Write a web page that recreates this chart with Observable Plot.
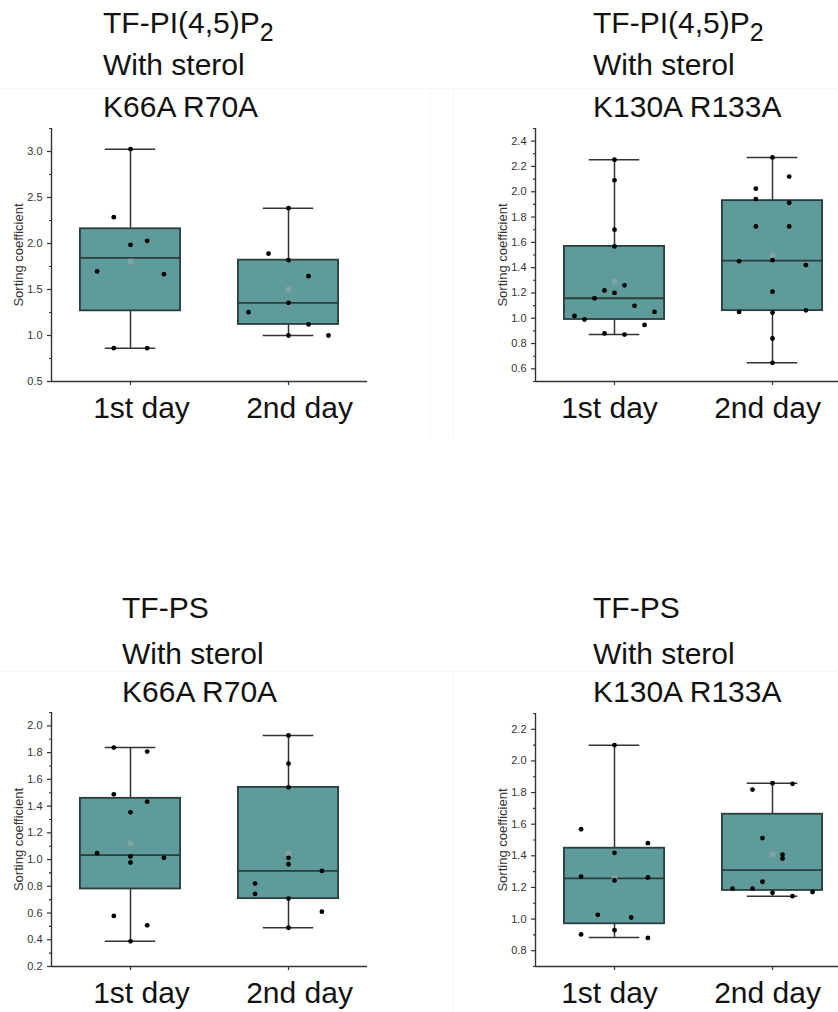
<!DOCTYPE html>
<html><head><meta charset="utf-8">
<script src="https://cdn.jsdelivr.net/npm/d3@7"></script>
<script src="https://cdn.jsdelivr.net/npm/@observablehq/plot@0.6"></script>
<style>
html,body{margin:0;padding:0;background:#fff;overflow:hidden;}
#page{position:relative;width:838px;height:1012px;overflow:hidden;font-family:"Liberation Sans",Arial,sans-serif;}
.t{position:absolute;font-size:30px;line-height:30px;color:#111;white-space:nowrap;}
.t sub{font-size:25px;vertical-align:-8px;line-height:0;}
.panel{position:absolute;}
.sep{position:absolute;background:#f6f6f6;}
</style></head><body><div id="page"></div>
<script>
// ---------- data ----------
const days = ["1st day", "2nd day"];
const yLabel = "Sorting coefficient";

const titles1 = ["TF-PI(4,5)P<sub>2</sub>", "With sterol", "K66A R70A"];
const titles2 = ["TF-PI(4,5)P<sub>2</sub>", "With sterol", "K130A R133A"];
const titles3 = ["TF-PS", "With sterol", "K66A R70A"];
const titles4 = ["TF-PS", "With sterol", "K130A R133A"];

// y tick values per panel
const yTicks1 = [0.5, 1.0, 1.5, 2.0, 2.5, 3.0];
const yTicks2 = [0.6, 0.8, 1.0, 1.2, 1.4, 1.6, 1.8, 2.0, 2.2, 2.4];
const yTicks3 = [0.2, 0.4, 0.6, 0.8, 1.0, 1.2, 1.4, 1.6, 1.8, 2.0];
const yTicks4 = [0.8, 1.0, 1.2, 1.4, 1.6, 1.8, 2.0, 2.2];

// box statistics [1st day, 2nd day]
const p1Min = [0.862, 1.00], p1Q1 = [1.268, 1.12], p1Med = [1.844, 1.355], p1Q3 = [2.16, 1.819], p1Max = [3.025, 2.384], p1Mean = [1.804, 1.50];
const p2Min = [0.871, 0.648], p2Q1 = [0.99, 1.06], p2Med = [1.158, 1.455], p2Q3 = [1.568, 1.93], p2Max = [2.253, 2.271], p2Mean = [1.288, 1.496];
const p3Min = [0.388, 0.49], p3Q1 = [0.78, 0.7075], p3Med = [1.033, 0.915], p3Q3 = [1.458, 1.54], p3Max = [1.838, 1.928], p3Mean = [1.12, 1.045];
const p4Min = [0.884, 1.145], p4Q1 = [0.97, 1.181], p4Med = [1.257, 1.31], p4Q3 = [1.448, 1.663], p4Max = [2.10, 1.859], p4Mean = [1.258, 1.41];

// individual points and their jitter lane
const p1Day1 = [3.025, 2.286, 1.986, 2.029, 1.696, 1.667, 0.862, 0.862];
const p1Day1Lane = [0, -1, 0, 1, -2, 2, -1, 1];
const p1Day2 = [2.384, 1.891, 1.819, 1.645, 1.355, 1.254, 1.12, 1.00, 1.00];
const p1Day2Lane = [0, -1, 0, 1, 0, -2, 1, 0, 2];

const p2Day1 = [2.253, 2.09, 1.70, 1.568, 1.26, 1.22, 1.20, 1.158, 1.098, 1.05, 1.018, 0.99, 0.947, 0.88, 0.871];
const p2Day1Lane = [0, 0, 0, 0, 1, -1, 0, -2, 2, 4, -4, -3, 3, -1, 1];
const p2Day2 = [2.271, 2.12, 2.024, 1.942, 1.913, 1.726, 1.726, 1.45, 1.459, 1.42, 1.21, 1.05, 1.045, 1.063, 0.84, 0.648];
const p2Day2Lane = [0, 1, -1, -1, 1, -1, 1, -2, 0, 2, 0, -2, 0, 2, 0, 0];

const p3Day1 = [1.838, 1.808, 1.488, 1.433, 1.353, 1.048, 1.023, 1.013, 0.978, 0.578, 0.508, 0.388];
const p3Day1Lane = [-1, 1, -1, 1, 0, -2, 0, 2, 0, -1, 1, 0];
const p3Day2 = [1.928, 1.718, 1.54, 1.013, 0.965, 0.82, 0.743, 0.915, 0.708, 0.61, 0.49];
const p3Day2Lane = [0, 0, 0, 0, 0, -2, -2, 2, 0, 2, 0];

const p4Day1 = [2.10, 1.568, 1.48, 1.419, 1.269, 1.263, 1.244, 1.027, 1.01, 0.93, 0.903, 0.881];
const p4Day1Lane = [0, -2, 2, 0, -2, 2, 0, -1, 1, 0, -2, 2];
const p4Day2 = [1.859, 1.855, 1.819, 1.512, 1.408, 1.383, 1.236, 1.192, 1.192, 1.167, 1.171, 1.145];
const p4Day2Lane = [0, 2, -2, -1, 1, 1, -1, -4, -2, 0, 4, 2];

// ---------- layout / style ----------
const FONT = '"Liberation Sans", Arial, sans-serif';
const PX_PER_UNIT = 158;
const BOX_HALF = 0.317, CAP_HALF = 0.16;
const FILL = "#5f9b9b", EDGE = "#2a3d3d", AXIS = "#333";

function makeBoxes(mn, q1, md, q3, mx, mean) {
  return [0, 1].map(i => ({cat: i + 1, min: mn[i], q1: q1[i], median: md[i], q3: q3[i], max: mx[i], mean: mean[i]}));
}
function makePoints(vals1, lanes1, vals2, lanes2, steps) {
  return [
    ...vals1.map((v, i) => ({cat: 1, value: v, lane: lanes1[i], step: steps[0]})),
    ...vals2.map((v, i) => ({cat: 2, value: v, lane: lanes2[i], step: steps[1]}))
  ];
}

function panel({domain, ticks, boxes, points, width, marginLeft, marginTop, plotH, marginBottom, labelDx}) {
  const step = ticks[1] - ticks[0];
  const minor = d3.range(Math.round(domain[0] / (step / 2)), Math.floor(domain[1] / (step / 2) + 1e-6) + 1)
    .map(k => +(k * step / 2).toFixed(3))
    .filter(v => v >= domain[0] - 1e-9 && v <= domain[1] + 1e-9 && !ticks.some(t => Math.abs(t - v) < 1e-6));
  const plotW = 2 * PX_PER_UNIT;
  return Plot.plot({
    width, height: marginTop + plotH + marginBottom,
    marginLeft, marginTop, marginBottom, marginRight: width - marginLeft - plotW,
    x: {domain: [0.5, 2.5], axis: null},
    y: {domain, axis: null},
    style: {fontFamily: FONT, background: "transparent", overflow: "visible", color: AXIS},
    marks: [
      Plot.ruleX(boxes, {x: "cat", y1: "q3", y2: "max", stroke: AXIS, strokeWidth: 1.5}),
      Plot.ruleX(boxes, {x: "cat", y1: "min", y2: "q1", stroke: AXIS, strokeWidth: 1.5}),
      Plot.ruleY(boxes, {y: "max", x1: d => d.cat - CAP_HALF, x2: d => d.cat + CAP_HALF, stroke: AXIS, strokeWidth: 1.5}),
      Plot.ruleY(boxes, {y: "min", x1: d => d.cat - CAP_HALF, x2: d => d.cat + CAP_HALF, stroke: AXIS, strokeWidth: 1.5}),
      Plot.rect(boxes, {x1: d => d.cat - BOX_HALF, x2: d => d.cat + BOX_HALF, y1: "q1", y2: "q3", fill: FILL, stroke: EDGE, strokeWidth: 1.8}),
      Plot.ruleY(boxes, {y: "median", x1: d => d.cat - BOX_HALF, x2: d => d.cat + BOX_HALF, stroke: EDGE, strokeWidth: 1.8}),
      Plot.dot(boxes, {x: "cat", y: "mean", symbol: "square", r: 2.5, stroke: "#8a9d9d", strokeWidth: 1.2, fill: "#79abab"}),
      Plot.dot(points, {x: d => d.cat + d.lane * d.step / PX_PER_UNIT, y: "value", r: 2.4, fill: "#000", stroke: "none"}),
      Plot.ruleX([0.5], {stroke: AXIS, strokeWidth: 1.4}),
      Plot.ruleY([domain[0]], {stroke: AXIS, strokeWidth: 1.4}),
      Plot.axisY({ticks, tickFormat: d3.format(".1f"), tickSize: 4, tickPadding: 5, fontSize: 11, label: null, stroke: AXIS, strokeWidth: 1.2}),
      Plot.axisY({ticks: minor, tickFormat: () => "", tickSize: 2, label: null, stroke: AXIS, strokeWidth: 1.1}),
      Plot.axisX({ticks: [1, 2], tickFormat: () => "", tickSize: 4, label: null, stroke: AXIS, strokeWidth: 1.2}),
      Plot.text(days, {x: (d, i) => i + 1, frameAnchor: "bottom", lineAnchor: "bottom", dy: 36, dx: labelDx, fontSize: 30, fill: "#111"}),
      Plot.text([yLabel], {frameAnchor: "left", textAnchor: "middle", dx: -33, rotate: -90, fontSize: 13, fill: AXIS})
    ]
  });
}

const page = document.getElementById("page");
function place(el, left, top) {
  el.classList.add("panel");
  el.style.left = left + "px";
  el.style.top = top + "px";
  page.appendChild(el);
}
function addTitle(lines, left, baselines) {
  lines.forEach((txt, i) => {
    const d = document.createElement("div");
    d.className = "t";
    d.innerHTML = txt;
    d.style.left = left + "px";
    d.style.top = (baselines[i] - 25.4) + "px";
    page.appendChild(d);
  });
}
function addSep(l, t, w, h) {
  const d = document.createElement("div");
  d.className = "sep";
  Object.assign(d.style, {left: l + "px", top: t + "px", width: w + "px", height: h + "px"});
  page.appendChild(d);
}
addSep(0, 88, 838, 1);
addSep(430, 88, 1, 350);
addSep(453, 88, 1, 350);
addSep(0, 671, 838, 1);
addSep(453, 671, 1, 341);

const topBase = [33, 75, 117];
const botBase = [618, 664, 702];
addTitle(titles1, 103, topBase);
addTitle(titles2, 593, topBase);
addTitle(titles3, 122, botBase);
addTitle(titles4, 593, botBase);

place(panel({
  domain: [0.5, 3.25], ticks: yTicks1,
  boxes: makeBoxes(p1Min, p1Q1, p1Med, p1Q3, p1Max, p1Mean),
  points: makePoints(p1Day1, p1Day1Lane, p1Day2, p1Day2Lane, [16.7, 20]),
  width: 420, marginLeft: 51, marginTop: 28, plotH: 253, marginBottom: 50, labelDx: 11
}), 0, 100);

place(panel({
  domain: [0.5, 2.5], ticks: yTicks2,
  boxes: makeBoxes(p2Min, p2Q1, p2Med, p2Q3, p2Max, p2Mean),
  points: makePoints(p2Day1, p2Day1Lane, p2Day2, p2Day2Lane, [10, 16.7]),
  width: 381, marginLeft: 65, marginTop: 28, plotH: 253, marginBottom: 50, labelDx: -5
}), 470, 100);

place(panel({
  domain: [0.2, 2.1], ticks: yTicks3,
  boxes: makeBoxes(p3Min, p3Q1, p3Med, p3Q3, p3Max, p3Mean),
  points: makePoints(p3Day1, p3Day1Lane, p3Day2, p3Day2Lane, [16.7, 16.7]),
  width: 420, marginLeft: 51, marginTop: 28, plotH: 254, marginBottom: 46, labelDx: 11
}), 0, 684);

place(panel({
  domain: [0.7, 2.3], ticks: yTicks4,
  boxes: makeBoxes(p4Min, p4Q1, p4Med, p4Q3, p4Max, p4Mean),
  points: makePoints(p4Day1, p4Day1Lane, p4Day2, p4Day2Lane, [16.7, 10]),
  width: 381, marginLeft: 65, marginTop: 29, plotH: 253, marginBottom: 46, labelDx: -5
}), 470, 684);
</script>
</body></html>
